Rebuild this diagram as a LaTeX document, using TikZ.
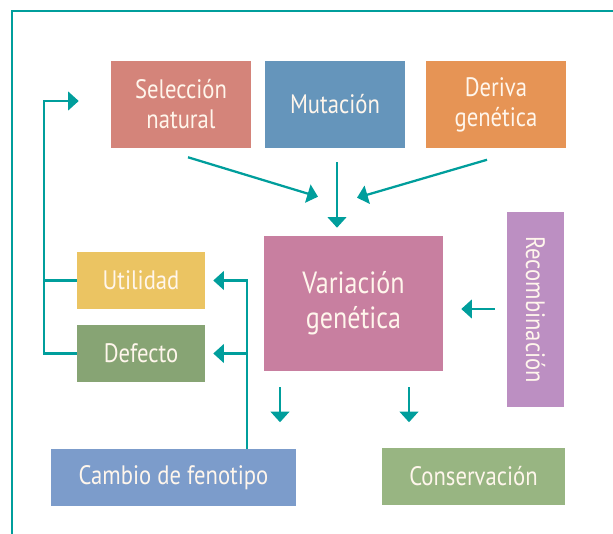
\documentclass[tikz,border=0pt]{standalone}
\usepackage{fontspec}
\setmainfont{PT Sans}[FakeStretch=0.85]
\usetikzlibrary{calc,arrows.meta}
\definecolor{linecol}{HTML}{009E9C}
\definecolor{txtcol}{HTML}{FFF6EC}
\definecolor{selcol}{HTML}{D4847A}
\definecolor{mutcol}{HTML}{6595BB}
\definecolor{dercol}{HTML}{E69455}
\definecolor{varcol}{HTML}{C87FA0}
\definecolor{reccol}{HTML}{BC8FC2}
\definecolor{uticol}{HTML}{EBC462}
\definecolor{defcol}{HTML}{87A474}
\definecolor{camcol}{HTML}{7C9CCB}
\definecolor{concol}{HTML}{98B582}

\begin{document}
\begin{tikzpicture}[x=0.75pt,y=-0.75pt,
    box/.style={inner sep=0pt, text=txtcol, align=center, font=\fontsize{20}{22.5}\selectfont},
    arr/.style={draw=linecol, line width=1.7pt, -{Triangle[width=14pt,length=8pt]}},
    link/.style={draw=linecol, line width=1.7pt}]
    \useasboundingbox (0,0) rectangle (613,534);
    \draw[linecol, line width=1.5pt] (12,534) -- (12,11) -- (613,11);

    \node[box, fill=selcol, minimum width=105pt, minimum height=65.25pt] (sel) at (181,104.5) {Selección\\natural};
    \node[box, fill=mutcol, minimum width=105pt, minimum height=65.25pt] (mut) at (335,104.5) {Mutación};
    \node[box, fill=dercol, minimum width=105pt, minimum height=65.25pt] (der) at (496,105) {Deriva\\genética};
    \node[box, fill=varcol, minimum width=134.25pt, minimum height=101.25pt, font=\fontsize{23}{26}\selectfont] (var) at (353.5,303.5) {Variación\\genética};
    \node[box, fill=reccol, minimum width=42.75pt, minimum height=146.25pt] (rec) at (535.5,309.5) {\rotatebox{-90}{Recombinación}};
    \node[box, fill=uticol, minimum width=96pt, minimum height=42.75pt] (uti) at (141,280.5) {Utilidad};
    \node[box, fill=defcol, minimum width=96pt, minimum height=42.75pt] (def) at (141,353.5) {Defecto};
    \node[box, fill=camcol, minimum width=183.75pt, minimum height=42.75pt] (cam) at (173.5,477.5) {Cambio de fenotipo};
    \node[box, fill=concol, minimum width=137.25pt, minimum height=42.75pt] (con) at (473.5,476.5) {Conservación};

    \draw[arr] ($(sel.south)+(7,9)$) -- ($(var.north)+(-35.5,-39)$);
    \draw[arr] ($(mut.south)+(2,14)$) -- ($(var.north)+(-16.5,-8)$);
    \draw[arr] ($(der.south)+(-9,11)$) -- ($(var.north)+(3.5,-38)$);
    \draw[arr] ($(rec.west)+(-12,-0.5)$) -- ($(var.east)+(18,5.5)$);
    \draw[arr] ($(var.south)+(-73.5,16)$) -- ($(var.south)+(-73.5,51)$);
    \draw[arr] ($(var.south)+(55.5,16)$) -- ($(var.south)+(55.5,51)$);

    \draw[arr] (def.west) -- ++(-33,0) |- ($(sel.west)+(-32,-3.5)$);
    \draw[link] (uti.west) -- ++(-33,0);

    \coordinate (cup) at (247,449);
    \draw[arr] (cup) |- ($(uti.east)+(8,0)$);
    \draw[arr] (cup |- def.east) -- ($(def.east)+(8,0)$);
\end{tikzpicture}
\end{document}
